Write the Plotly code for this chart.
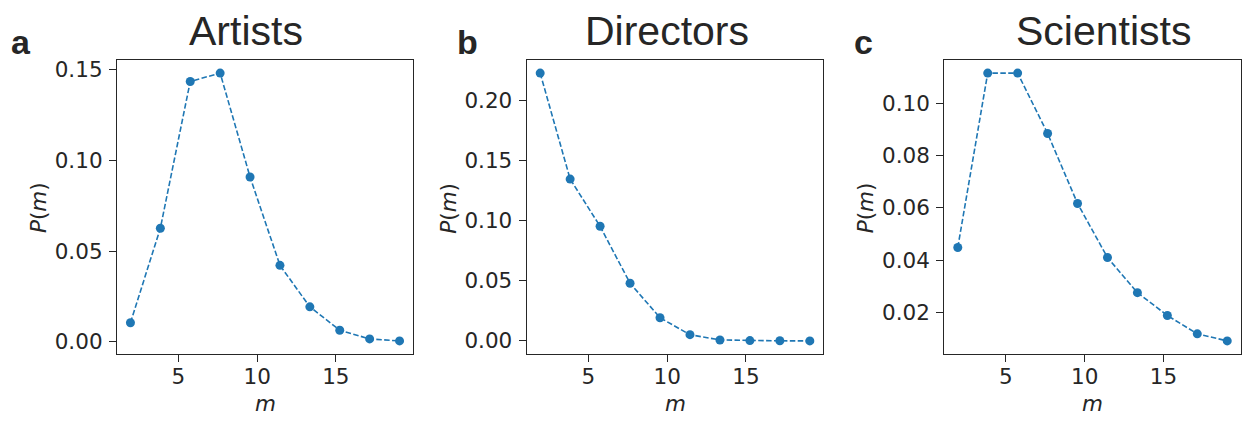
import plotly.graph_objects as go

# bin centres of the group-size histogram (shared by all three panels)
m_values = [1.95, 3.85, 5.75, 7.65, 9.55, 11.45, 13.35, 15.25, 17.15, 19.05]

p_artists = [0.0104, 0.0626, 0.1436, 0.1482, 0.0909, 0.0421, 0.0192, 0.0063, 0.0015, 0.0004]
p_directors = [0.2229, 0.1347, 0.0954, 0.0480, 0.0193, 0.0052, 0.0008, 0.0003, 0.0001, 0.0000]
p_scientists = [0.0449, 0.1114, 0.1114, 0.0884, 0.0617, 0.0411, 0.0277, 0.0190, 0.0120, 0.0093]

titles = ["Artists", "Directors", "Scientists"]
panel_letters = ["a", "b", "c"]
x_ticks = [5, 10, 15]
y_ticks = [
    [0.00, 0.05, 0.10, 0.15],
    [0.00, 0.05, 0.10, 0.15, 0.20],
    [0.02, 0.04, 0.06, 0.08, 0.10],
]

W, H = 1249, 421
BLUE = "#1f77b4"
INK = "#262626"
TICK_FONT = dict(family="DejaVu Sans", size=21.5, color=INK)

# pixel boxes of the three axes (left, right), shared top/bottom
x_boxes = [(117, 413), (526.7, 823.3), (944.3, 1240.7)]
top_px, bottom_px = 58, 354
title_x = [246, 666.7, 1103]
letter_x = [21, 467, 863]


def padded(vals, frac=0.05):
    lo, hi = min(vals), max(vals)
    pad = (hi - lo) * frac
    return [lo - pad, hi + pad]


fig = go.Figure()
series = [p_artists, p_directors, p_scientists]
annotations = []
for i, ys in enumerate(series):
    ax = "" if i == 0 else str(i + 1)
    fig.add_trace(go.Scatter(
        x=m_values, y=ys, mode="lines+markers",
        line=dict(color=BLUE, width=1.6, dash="5.5px,2.4px"),
        marker=dict(color=BLUE, size=9),
        xaxis="x" + ax, yaxis="y" + ax, showlegend=False,
    ))
    left, right = x_boxes[i]
    axis_common = dict(
        showline=True, linecolor=INK, linewidth=1.25, mirror=True,
        ticks="outside", ticklen=7, tickwidth=1.25, tickcolor=INK,
        showgrid=False, zeroline=False, tickfont=TICK_FONT,
    )
    fig.update_layout({
        "xaxis" + ax: dict(
            domain=[left / W, right / W], range=padded(m_values),
            tickvals=x_ticks, anchor="y" + ax, ticklabelstandoff=-4,
            **axis_common,
        ),
        "yaxis" + ax: dict(
            domain=[1 - bottom_px / H, 1 - top_px / H], range=padded(ys),
            tickvals=y_ticks[i], tickformat=".2f", anchor="x" + ax,
            ticklabelstandoff=2, **axis_common,
        ),
    })
    # panel title
    annotations.append(dict(
        text=titles[i], x=title_x[i] / W, y=1 - 29 / H, xref="paper", yref="paper",
        xanchor="center", yanchor="middle", showarrow=False,
        font=dict(family="Liberation Sans", size=41, color=INK),
    ))
    # panel letter
    annotations.append(dict(
        text="<b>%s</b>" % panel_letters[i], x=letter_x[i] / W, y=1 - 40 / H,
        xref="paper", yref="paper", xanchor="center", yanchor="middle",
        showarrow=False, font=dict(family="Liberation Sans", size=34, color=INK),
    ))
    # axis labels
    annotations.append(dict(
        text="<i>m</i>", x=(left + right) / 2 / W, y=1 - 403 / H,
        xref="paper", yref="paper", xanchor="center", yanchor="middle",
        showarrow=False, font=dict(family="DejaVu Sans", size=21.5, color=INK),
    ))
    annotations.append(dict(
        text="<i>P</i>(<i>m</i>)", x=(left - 79) / W, y=1 - 207 / H,
        xref="paper", yref="paper", xanchor="center", yanchor="middle",
        textangle=-90, showarrow=False,
        font=dict(family="DejaVu Sans", size=21.5, color=INK),
    ))

fig.update_layout(
    width=W, height=H, margin=dict(l=0, r=0, t=0, b=0),
    paper_bgcolor="white", plot_bgcolor="white",
    annotations=annotations,
)

fig.write_html("out.html")
